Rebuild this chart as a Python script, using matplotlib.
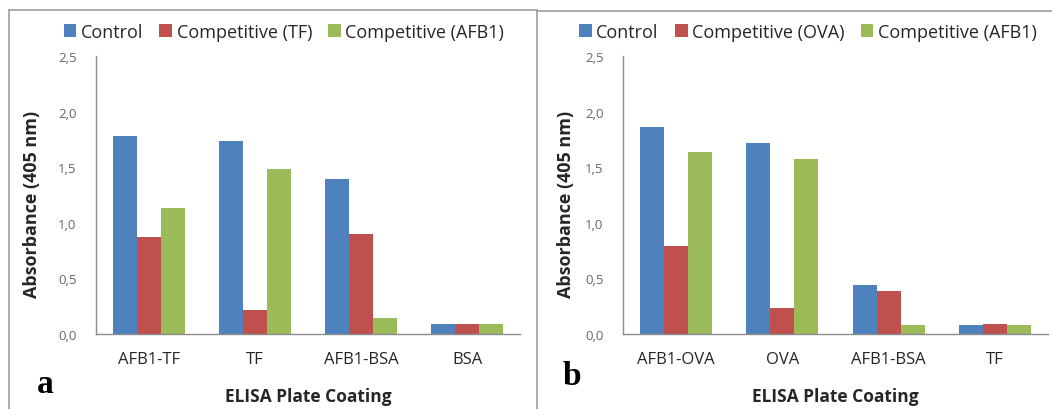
import matplotlib
matplotlib.use("Agg")
import matplotlib.pyplot as plt
import numpy as np
from matplotlib.lines import Line2D
from matplotlib.patches import Patch
from matplotlib.ticker import FuncFormatter

# ---- data ----
cats_a = ["AFB1-TF", "TF", "AFB1-BSA", "BSA"]
control_a = [1.78, 1.74, 1.39, 0.09]
comp_tf_a = [0.87, 0.22, 0.90, 0.09]
comp_afb1_a = [1.13, 1.48, 0.14, 0.09]
legend_a = ["Control", "Competitive (TF)", "Competitive (AFB1)"]

cats_b = ["AFB1-OVA", "OVA", "AFB1-BSA", "TF"]
control_b = [1.86, 1.72, 0.44, 0.08]
comp_ova_b = [0.79, 0.23, 0.39, 0.09]
comp_afb1_b = [1.64, 1.57, 0.08, 0.08]
legend_b = ["Control", "Competitive (OVA)", "Competitive (AFB1)"]

yticks = [0.0, 0.5, 1.0, 1.5, 2.0, 2.5]
colors = ["#4F81BD", "#C0504D", "#9BBB59"]

FONT = "Open Sans"
TXT = "#262626"
GRAY = "#666666"
AX = "#8C8C8C"

fig = plt.figure(figsize=(10.52, 4.10), dpi=100)
W, H = 1052, 410

def fx(px):
    return px / W

def fy(py):
    return 1 - py / H

# panel borders
border = "#A0A0A0"
fig.add_artist(Line2D([fx(9), fx(9)], [fy(11), 0], color=border, lw=1.2))
fig.add_artist(Line2D([fx(9), fx(537)], [fy(11), fy(11)], color=border, lw=1.2))
fig.add_artist(Line2D([fx(537), fx(537)], [fy(11), 0], color=border, lw=1.2))
fig.add_artist(Line2D([fx(537), 1], [fy(12), fy(12)], color=border, lw=1.2))

def panel(left_px, right_px, cats, series, labels, letter, letter_xy, legend_center_px, ylab_x):
    ax = fig.add_axes([fx(left_px), fy(335), fx(right_px - left_px), (335 - 57) / H])
    x = np.arange(len(cats))
    w = 0.226
    for i, (vals, c) in enumerate(zip(series, colors)):
        ax.bar(x + (i - 1) * w, vals, width=w, color=c, edgecolor="none")
    ax.set_xlim(-0.5, len(cats) - 0.5)
    ax.set_ylim(0, 2.5)
    ax.set_yticks(yticks)
    ax.yaxis.set_major_formatter(FuncFormatter(lambda v, p: f"{v:.1f}".replace(".", ",")))
    ax.set_xticks(x)
    ax.set_xticklabels(cats, fontfamily=FONT, fontsize=12, color=TXT)
    for s in ["top", "right"]:
        ax.spines[s].set_visible(False)
    for s in ["left", "bottom"]:
        ax.spines[s].set_color(AX)
        ax.spines[s].set_linewidth(1.0)
    ax.tick_params(axis="both", length=0)
    ax.tick_params(axis="x", pad=12)
    ax.tick_params(axis="y", pad=14, labelsize=9.5, labelcolor=GRAY)
    for t in ax.get_yticklabels():
        t.set_fontfamily(FONT)
    ax.set_ylabel("Absorbance (405 nm)", fontfamily=FONT, fontsize=13, fontweight="bold",
                  color=TXT, va="center")
    ax.yaxis.set_label_coords((ylab_x - left_px) / (right_px - left_px), 0.47)
    ax.set_xlabel("ELISA Plate Coating", fontfamily=FONT, fontsize=12.5, fontweight="bold",
                  color=TXT, va="center")
    ax.xaxis.set_label_coords(0.5, -(397 - 335) / (335 - 57))
    handles = [Patch(facecolor=c, edgecolor="none") for c in colors]
    fig.legend(handles, labels, loc="center", bbox_to_anchor=(fx(legend_center_px), fy(33)),
               ncol=3, frameon=False, prop={"family": FONT, "size": 13},
               handlelength=0.7, handleheight=0.7, handletextpad=0.25,
               columnspacing=0.9, labelcolor=TXT)
    fig.text(fx(letter_xy[0]), fy(letter_xy[1]), letter, fontfamily="Liberation Serif",
             fontweight="bold", fontsize=24, ha="center", va="baseline", color="black")
    return ax

panel(96, 520, cats_a, [control_a, comp_tf_a, comp_afb1_a], legend_a, "a", (45, 393), 284, 32)
panel(623, 1048, cats_b, [control_b, comp_ova_b, comp_afb1_b], legend_b, "b", (572, 385), 808, 566)

fig.savefig("out.png", dpi=100)
